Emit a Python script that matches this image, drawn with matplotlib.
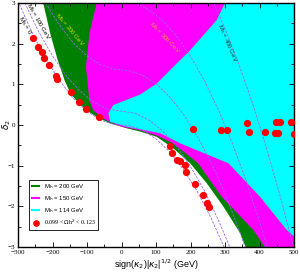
import matplotlib
matplotlib.use("Agg")
import matplotlib.pyplot as plt
from matplotlib.lines import Line2D

# allowed regions (x = sign(k2)|k2|^1/2, y = delta2)
green_x = [-227, -205, -185, -165, -147, -124, -103, -72, -33, 15, 54, 102, 150, 199, 247, 295, 344, 360, 500, 500]
green_y = [3.0, 2.2, 1.6, 1.1, 0.76, 0.54, 0.37, 0.2, 0.04, -0.08, -0.16, -0.29, -0.57, -0.94, -1.43, -2.0, -2.66, -3.0, -3.0, 3.0]

magenta_x = [-72, -93, -103, -93, -82, -60, -40, 0, 50, 100, 150, 222, 290, 382, 416, 500, 500]
magenta_y = [3.0, 2.26, 1.42, 0.61, 0.36, 0.2, 0.1, -0.04, -0.12, -0.25, -0.45, -0.94, -1.76, -2.58, -3.0, -3.0, 3.0]

cyan_x = [300, 276, 199, 150, 102, 54, 15, -24, -38, -33, 15, 112, 170, 310, 401, 479, 500, 500]
cyan_y = [3.0, 2.58, 1.84, 1.43, 1.02, 0.75, 0.62, 0.49, 0.29, 0.08, -0.04, -0.2, -0.45, -0.94, -1.76, -2.58, -2.74, 3.0]

# M_S contours (dashed)
ms0_x = [-300, -260, -220, -180, -140, -100, -60, -20, 20, 60, 100, 140, 180, 220, 260, 300]
ms0_y = [3.05, 2.29, 1.64, 1.10, 0.66, 0.34, 0.12, 0.01, -0.01, -0.12, -0.34, -0.66, -1.10, -1.64, -2.29, -3.05]
ms100_x = [-280, -240, -200, -160, -120, -80, -40, 0, 40, 80, 120, 160, 200, 240, 280, 315]
ms100_y = [3.0, 2.29, 1.70, 1.21, 0.83, 0.56, 0.39, 0.34, 0.29, 0.12, -0.15, -0.53, -1.02, -1.61, -2.32, -3.02]
ms200_x = [-220, -180, -140, -100, -60, -20, 20, 60, 100, 140, 180, 220, 260, 300, 340, 358]
ms200_y = [3.0, 2.46, 2.02, 1.70, 1.48, 1.37, 1.34, 1.23, 1.02, 0.69, 0.26, -0.28, -0.93, -1.69, -2.56, -3.0]
ms300_x = [10, 40, 80, 120, 160, 200, 240, 280, 320, 360, 400, 424]
ms300_y = [3.0, 3.0, 2.83, 2.56, 2.18, 1.69, 1.10, 0.39, -0.42, -1.34, -2.37, -3.04]
ms400_x = [267, 300, 340, 380, 420, 460, 500]
ms400_y = [3.0, 2.37, 1.50, 0.53, -0.56, -1.75, -3.05]

# relic density points
dots_x = [-256, -241, -231, -224, -209, -191, -186, -146, -124, -103, -65,
          141, 146, 160, 170, 184, 187, 213, 237, 249, 255,
          208, 288, 307, 363, 369, 416, 448, 459, 445, 455, 490, 500]
dots_y = [2.13, 1.91, 1.80, 1.66, 1.47, 1.20, 1.13, 0.80, 0.56, 0.39, 0.20,
          -0.52, -0.68, -0.86, -0.88, -0.98, -1.15, -1.46, -1.73, -1.92, -2.02,
          -0.10, -0.12, -0.12, 0.06, -0.16, -0.18, 0.08, 0.08, -0.19, -0.19, 0.08, -0.23]

fig = plt.figure(figsize=(3.0, 2.73), dpi=100)
ax = fig.add_axes([0.06, 0.095, 0.92, 0.894])

ax.fill(green_x, green_y, color='#008000', lw=0)
ax.fill(magenta_x, magenta_y, color='#ff00ff', lw=0)
ax.fill(cyan_x, cyan_y, color='#00ffff', lw=0)

for xs, ys in [(ms0_x, ms0_y), (ms100_x, ms100_y), (ms200_x, ms200_y),
               (ms300_x, ms300_y), (ms400_x, ms400_y)]:
    ax.plot(xs, ys, color='#9966ee', lw=0.6, dashes=(3, 1.5))

ax.plot(dots_x, dots_y, 'o', color='red', ms=4.2, mec='red', zorder=5)

tk = dict(fontsize=4.4, family='Liberation Sans', ha='center', va='center')
ax.text(-281, 2.45, r'M$_{\rm S}$ = 0', rotation=-60, color='black', **tk)
ax.text(-241, 2.55, r'M$_{\rm S}$ = 100 GeV', rotation=-60, color='black', **tk)
ax.text(-149, 2.35, r'M$_{\rm S}$ = 200 GeV', rotation=-50, color='#d8d800', **tk)
ax.text(126, 2.15, r'M$_{\rm S}$ = 300 GeV', rotation=-46, color='#f0a030', **tk)
ax.text(306, 2.0, r'M$_{\rm S}$ = 400 GeV', rotation=-67, color='#1a3a3a', **tk)

ax.set_xlim(-300, 500)
ax.set_ylim(-3, 3)
ax.set_xticks(range(-300, 501, 100))
ax.set_xticks(range(-300, 501, 50), minor=True)
ax.set_yticks(range(-3, 4))
ax.set_yticks([v / 2 for v in range(-6, 7)], minor=True)
ax.tick_params(which='both', direction='in', top=True, right=True, width=0.6,
               labelsize=5, pad=2)
ax.tick_params(which='major', length=3.5)
ax.tick_params(which='minor', length=2)
for lab in ax.get_xticklabels() + ax.get_yticklabels():
    lab.set_family('Liberation Serif')
for s in ax.spines.values():
    s.set_linewidth(1.0)

ax.set_xlabel(r'sign($\kappa_2$)|$\kappa_2$|$^{1/2}$ (GeV)', fontsize=6.5,
              family='Liberation Sans', labelpad=2)
ax.set_ylabel(r'$\delta_2$', fontsize=6.5, va='center')
ax.yaxis.set_label_coords(-0.04, 0.5)

handles = [Line2D([], [], color='#008000', lw=1.5),
           Line2D([], [], color='#ff00ff', lw=1.5),
           Line2D([], [], color='#00ffff', lw=1.5),
           Line2D([], [], marker='o', ls='', color='red', ms=3.8)]
labels = [r'M$_{\rm h}$ = 200 GeV', r'M$_{\rm h}$ = 150 GeV',
          r'M$_{\rm h}$ = 114 GeV', r'0.099 < $\Omega$h$^2$ < 0.123']
leg = ax.legend(handles, labels, loc='lower left', bbox_to_anchor=(0.04, 0.07),
                fancybox=False, edgecolor='black', framealpha=1,
                handlelength=1.3, borderpad=0.45, labelspacing=0.5, handletextpad=0.7,
                borderaxespad=0, prop={'family': 'Liberation Sans', 'size': 4.3})
leg.get_frame().set_linewidth(0.6)
leg.get_texts()[3].set_family('Liberation Serif')

fig.savefig('out.png', dpi=100)
